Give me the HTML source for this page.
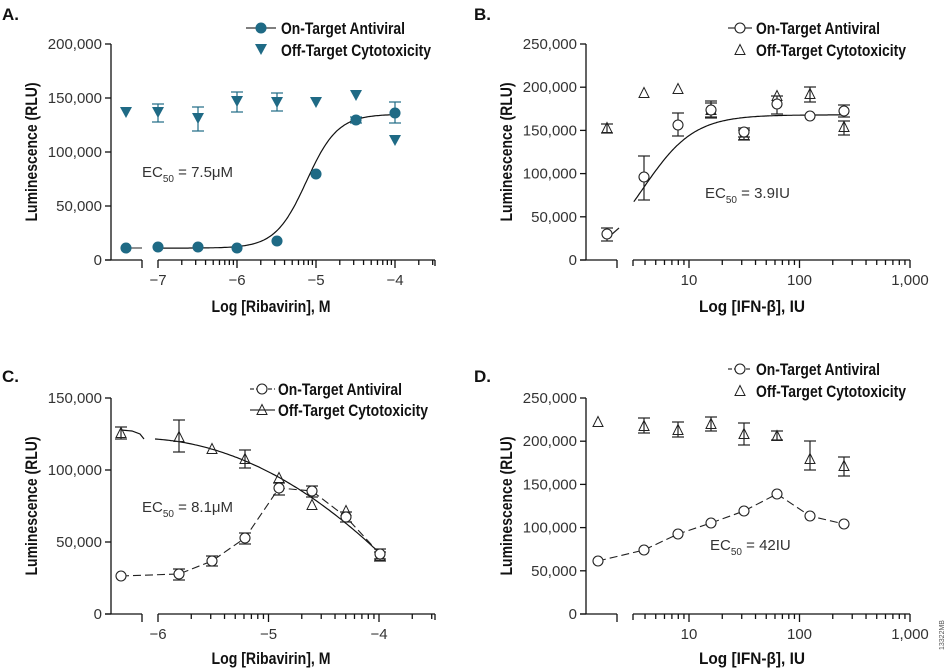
<!DOCTYPE html>
<html><head><meta charset="utf-8"><style>
body{margin:0;background:#fff}
svg{display:block}
.t{font-family:"Liberation Sans",sans-serif;fill:#333;font-size:15px}
.b{font-family:"Liberation Sans",sans-serif;font-weight:bold;fill:#111;font-size:17px}
</style></head><body>
<svg id="s" width="950" height="668" viewBox="0 0 950 668" xmlns="http://www.w3.org/2000/svg"></svg>
<script>
const S=document.getElementById('s');let h='';
const T='#1f6a85';
function txt(x,y,s,cls,anchor,extra){h+=`<text x="${x}" y="${y}" class="${cls}" text-anchor="${anchor||'start'}" ${extra||''}>${s}</text>`;}
function bt(x,y,s,len,anchor,extra){txt(x,y,s,'b',anchor,`textLength="${len}" lengthAdjust="spacingAndGlyphs" ${extra||''}`);}
function line(x1,y1,x2,y2,c,w,d){h+=`<line x1="${x1}" y1="${y1}" x2="${x2}" y2="${y2}" stroke="${c||'#111'}" stroke-width="${w||1.3}" ${d?`stroke-dasharray="${d}"`:''}/>`;}
function circ(x,y,fill){h+=`<circle cx="${x}" cy="${y}" r="5" fill="${fill||'#fff'}" stroke="${fill||'#222'}" stroke-width="1.1"/>`;}
function tri(x,y,down,fill){if(down)h+=`<polygon points="${x-6},${y-5} ${x+6},${y-5} ${x},${y+6}" fill="${fill}"/>`;else h+=`<polygon points="${x-5},${y+4.5} ${x+5},${y+4.5} ${x},${y-5.5}" fill="none" stroke="#222" stroke-width="1"/>`;}
function err(x,y1,y2,c){line(x,y1,x,y2,c,1.2);line(x-6,y1,x+6,y1,c,1.2);line(x-6,y2,x+6,y2,c,1.2);}
function path(pts,c,w,d){h+=`<path d="M${pts.map(p=>p[0].toFixed(1)+','+p[1].toFixed(1)).join('L')}" fill="none" stroke="${c}" stroke-width="${w}" ${d?`stroke-dasharray="${d}"`:''}/>`;}
function yaxis(ox,y0,ytop,labels){line(ox,y0,ox,ytop);const n=labels.length-1;labels.forEach((l,i)=>{const y=y0-(y0-ytop)*i/n;line(ox-6,y,ox,y);txt(ox-9,y+5,l,'t','end');});}
// ========= A =========
txt(2,20,'A.','b','start');
yaxis(111,260,44,['0','50,000','100,000','150,000','200,000']);
line(105,260,142,260);line(142,260,142,268);line(158,260,435,260);
const ax=v=>158+(v+7)*79, ay=v=>260-v*1.08;
line(158,260,158,268);
for(let d=-7;d<-4;d++){for(let k=2;k<=9;k++){const x=ax(d+Math.log10(k));line(x,260,x,265);} const x=ax(d+1);line(x,260,x,268);}
for(let k=2;k<=3;k++){line(ax(-4+Math.log10(k)),260,ax(-4+Math.log10(k)),265);}
line(435,260,435,266);
[-7,-6,-5,-4].forEach(v=>txt(ax(v),285,'−'+(-v),'t','middle'));
bt(271,312,'Log [Ribavirin], M',119,'middle');
bt(37,152,'Luminescence (RLU)',139,'middle','transform="rotate(-90 37 152)"');
line(126,248,142,248,'#555',1.3);
let p=[];for(let v=-7;v<=-4;v+=0.02){const y=11+(135-11)/(1+Math.pow(10,(-5.12-v)*2.2));p.push([ax(v),ay(y)]);}path(p,'#111',1.2);
[[126,112],[158,112,104,122],[198,118,107,131],[237,101,92,112],[277,102,93,111],[316,102],[356,95],[395,140]].forEach(q=>{if(q[2])err(q[0],q[2],q[3],T);tri(q[0],q[1],1,T);});
err(356,117,123,T);err(395,102,123,T);
[[126,248],[158,247],[198,247],[237,248],[277,241],[316,174],[356,120],[395,113]].forEach(q=>circ(q[0],q[1],T));
line(246,28,276,28,'#333',1.3);circ(261,28,T);bt(281,34,'On-Target Antiviral',124);
tri(261,49,1,T);bt(281,56,'Off-Target Cytotoxicity',150);
txt(142,177,'EC<tspan font-size="10" dy="5">50</tspan><tspan dy="-5"> = 7.5μM</tspan>','t');
// ========= B =========
txt(474,20,'B.','b','start');
yaxis(586,260,44,['0','50,000','100,000','150,000','200,000','250,000']);
const bx=v=>689+(Math.log10(v)-1)*110.5, by=v=>260-v*0.864;
line(580,260,617,260);line(617,260,617,268);line(633,260,910,260);line(633,260,633,266);
for(let d=0;d<3;d++){for(let k=1;k<=9;k++){const x=bx(Math.pow(10,d)*k);if(x>=633&&x<=910)line(x,260,x,k==1?268:265);}}line(910,260,910,268);
[[10,'10'],[100,'100'],[1000,'1,000']].forEach(q=>txt(bx(q[0]),285,q[1],'t','middle'));
bt(752,312,'Log [IFN-β], IU',106,'middle');
bt(512,152,'Luminescence (RLU)',139,'middle','transform="rotate(-90 512 152)"');
p=[];for(let v=0.5;v<=2.42;v+=0.01){const y=168/(1+Math.pow(10,(Math.log10(3.9)-v)*1.9));const x=bx(Math.pow(10,v));if(x>=633)p.push([x,by(y)]);}path(p,'#111',1.2);
line(611,235,619,228,'#222',1.2);
[[607,128,124,133],[644,93],[678,89],[711,110,103,118],[744,135,130,140],[777,96],[810,94,87,102],[844,127,121,135]].forEach(q=>{if(q[2])err(q[0],q[2],q[3],'#222');tri(q[0],q[1]);});
[[607,234,228,241],[644,177,156,200],[678,125,113,136],[711,110,101,117],[744,132,128,137],[777,104,96,114],[810,116],[844,111,105,117]].forEach(q=>{if(q[2])err(q[0],q[2],q[3],'#222');circ(q[0],q[1]);});
line(728,28,752,28,'#333',1.3);circ(740,28);bt(756,34,'On-Target Antiviral',124);
tri(740,50);bt(756,56,'Off-Target Cytotoxicity',150);
txt(705,198,'EC<tspan font-size="10" dy="5">50</tspan><tspan dy="-5"> = 3.9IU</tspan>','t');
// ========= C =========
txt(2,382,'C.','b','start');
yaxis(111,614,398,['0','50,000','100,000','150,000']);
const cx=v=>158+(v+6)*110.5;
line(105,614,142,614);line(142,614,142,622);line(158,614,435,614);line(158,614,158,622);
for(let d=-6;d<-4;d++){for(let k=2;k<=9;k++){const x=cx(d+Math.log10(k));line(x,614,x,619);}line(cx(d+1),614,cx(d+1),622);}
for(let k=2;k<=3;k++){line(cx(-4+Math.log10(k)),614,cx(-4+Math.log10(k)),619);}
line(435,614,435,620);
[-6,-5,-4].forEach(v=>txt(cx(v),639,'−'+(-v),'t','middle'));
bt(271,664,'Log [Ribavirin], M',119,'middle');
bt(37,506,'Luminescence (RLU)',139,'middle','transform="rotate(-90 37 506)"');
p=[];for(let x=155;x<=380;x+=2){const t=(x-155)/225;p.push([x,439+ (553-439)*(0.08*t+0.92*t*t*0.95+0.05*t)]);}path(p,'#111',1.2);
path([[121,430],[132,431],[140,434],[144,439]],'#111',1.2);
path([[121,576],[179,574],[212,561],[245,538],[279,488],[312,491],[346,517],[380,554]],'#222',1.1,'8,4');
[[121,433,427,439],[179,437,420,452],[212,449],[245,459,450,468],[279,478],[312,505],[346,511],[380,556,552,561]].forEach(q=>{if(q[2])err(q[0],q[2],q[3],'#222');tri(q[0],q[1]);});
[[121,576],[179,574,569,580],[212,561,556,566],[245,538,533,544],[279,488,483,495],[312,491,486,497],[346,517,512,522],[380,554,549,559]].forEach(q=>{if(q[2])err(q[0],q[2],q[3],'#222');circ(q[0],q[1]);});
line(250,389,275,389,'#333',1.2,'4,2');circ(262,389);bt(278,395,'On-Target Antiviral',124);
line(250,410,275,410,'#333',1.2);tri(262,410);bt(278,416,'Off-Target Cytotoxicity',150);
txt(142,512,'EC<tspan font-size="10" dy="5">50</tspan><tspan dy="-5"> = 8.1μM</tspan>','t');
// ========= D =========
txt(474,382,'D.','b','start');
yaxis(586,614,398,['0','50,000','100,000','150,000','200,000','250,000']);
line(580,614,617,614);line(617,614,617,622);line(633,614,910,614);line(633,614,633,620);
for(let d=0;d<3;d++){for(let k=1;k<=9;k++){const x=bx(Math.pow(10,d)*k);if(x>=633&&x<=910)line(x,614,x,k==1?622:619);}}line(910,614,910,622);
[[10,'10'],[100,'100'],[1000,'1,000']].forEach(q=>txt(bx(q[0]),639,q[1],'t','middle'));
bt(752,664,'Log [IFN-β], IU',106,'middle');
bt(512,506,'Luminescence (RLU)',139,'middle','transform="rotate(-90 512 506)"');
path([[598,561],[644,550],[678,534],[711,523],[744,511],[777,494],[810,516],[844,524]],'#222',1.1,'8,4');
[[598,422],[644,426,418,433],[678,430,422,437],[711,424,417,431],[744,434,423,445],[777,436,431,440],[810,459,441,470],[844,466,457,476]].forEach(q=>{if(q[2])err(q[0],q[2],q[3],'#222');tri(q[0],q[1]);});
[[598,561],[644,550],[678,534],[711,523],[744,511],[777,494],[810,516],[844,524]].forEach(q=>circ(q[0],q[1]));
line(728,369,752,369,'#333',1.2,'4,2');circ(740,369);bt(756,375,'On-Target Antiviral',124);
tri(740,391);bt(756,397,'Off-Target Cytotoxicity',150);
txt(710,550,'EC<tspan font-size="10" dy="5">50</tspan><tspan dy="-5"> = 42IU</tspan>','t');
h+=`<text x="944" y="650" font-family="Liberation Sans" font-size="7" fill="#555" transform="rotate(-90 944 650)">13322MB</text>`;
S.innerHTML=h;
</script>
</body></html>
